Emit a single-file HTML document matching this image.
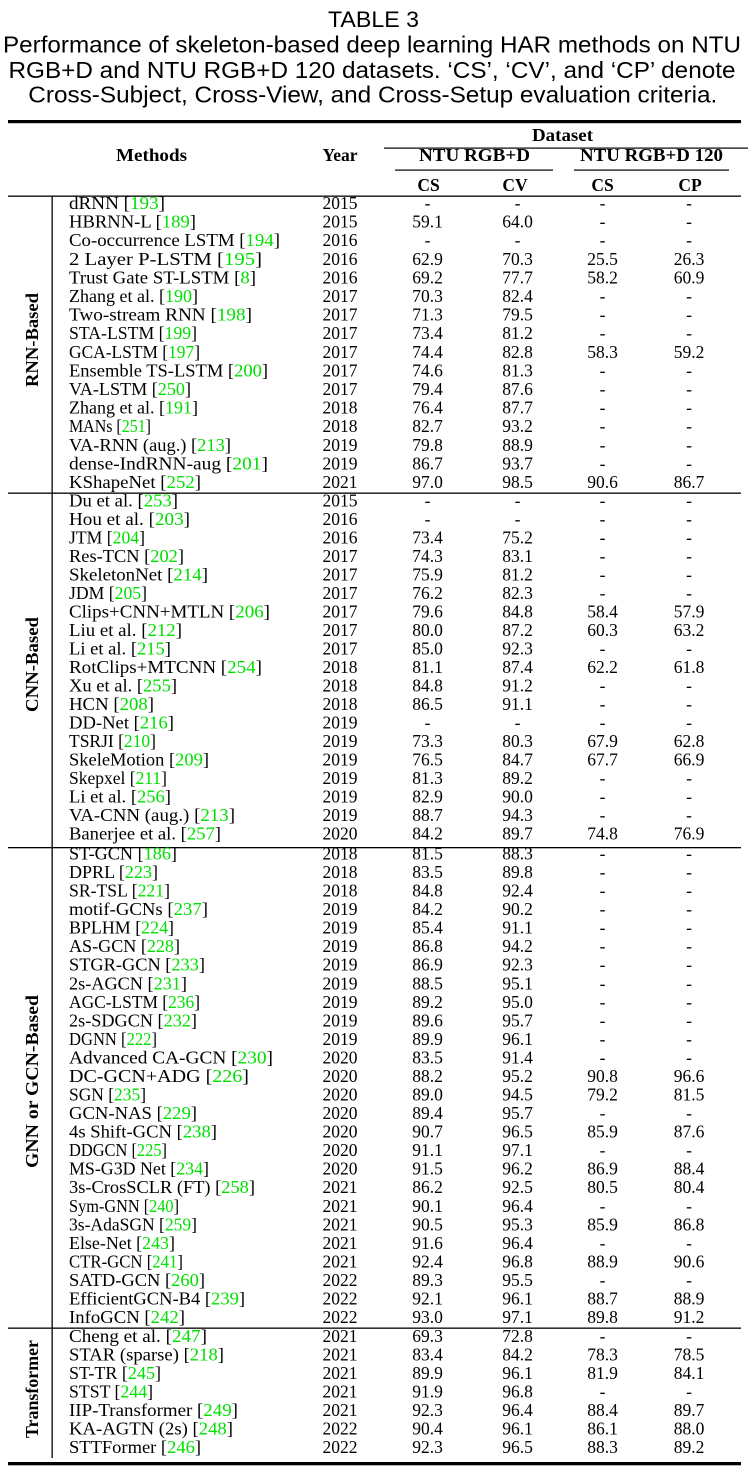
<!DOCTYPE html>
<html><head><meta charset="utf-8"><style>
html,body{margin:0;padding:0;background:#fff;}
svg{display:block;}
.s{font-family:"Liberation Sans",Arial,sans-serif;fill:#000;}
.r{font-family:"Liberation Serif","Times New Roman",serif;font-size:17.5px;fill:#000;}
.b{font-weight:bold;}
.c{text-anchor:middle;}
.g{fill:#00e000;}
</style></head><body>
<svg width="748" height="1478" viewBox="0 0 748 1478" xmlns="http://www.w3.org/2000/svg">
<rect width="748" height="1478" fill="#fff"/>
<!-- caption -->
<text class="s c" x="373.5" y="27" font-size="22.5" textLength="91" lengthAdjust="spacingAndGlyphs">TABLE 3</text>
<text class="s c" x="372" y="52.5" font-size="23.5" textLength="738" lengthAdjust="spacingAndGlyphs">Performance of skeleton-based deep learning HAR methods on NTU</text>
<text class="s c" x="372" y="78" font-size="23.5" textLength="727" lengthAdjust="spacingAndGlyphs">RGB+D and NTU RGB+D 120 datasets. &#8216;CS&#8217;, &#8216;CV&#8217;, and &#8216;CP&#8217; denote</text>
<text class="s c" x="372.8" y="102.5" font-size="23.5" textLength="689" lengthAdjust="spacingAndGlyphs">Cross-Subject, Cross-View, and Cross-Setup evaluation criteria.</text>

<!-- rules -->
<rect x="8" y="120" width="733" height="3.2" fill="#000"/>
<rect x="384" y="147.5" width="364" height="1.2" fill="#000"/>
<rect x="395" y="169.5" width="158" height="1.2" fill="#000"/>
<rect x="574" y="169.5" width="155" height="1.2" fill="#000"/>
<rect x="8" y="195.5" width="733" height="1.3" fill="#000"/>
<rect x="51.5" y="196" width="1.3" height="1262" fill="#000"/>
<rect x="8" y="492.5" width="733" height="1.3" fill="#000"/>
<rect x="8" y="847" width="733" height="1.3" fill="#000"/>
<rect x="8" y="1327.5" width="733" height="1.3" fill="#000"/>
<rect x="8" y="1462" width="733" height="3.3" fill="#000"/>

<!-- header -->
<text class="r b c" x="562.5" y="141" textLength="61" lengthAdjust="spacingAndGlyphs">Dataset</text>
<text class="r b c" x="151.5" y="161" textLength="71" lengthAdjust="spacingAndGlyphs">Methods</text>
<text class="r b c" x="340" y="161" textLength="35" lengthAdjust="spacingAndGlyphs">Year</text>
<text class="r b c" x="474.5" y="161" textLength="111" lengthAdjust="spacingAndGlyphs">NTU RGB+D</text>
<text class="r b c" x="651.5" y="161" textLength="143" lengthAdjust="spacingAndGlyphs">NTU RGB+D 120</text>
<text class="r b c" x="428.5" y="191">CS</text>
<text class="r b c" x="515" y="191">CV</text>
<text class="r b c" x="602.5" y="191">CS</text>
<text class="r b c" x="690" y="191">CP</text>

<!-- group labels -->
<text class="r b c" transform="translate(38,340) rotate(-90)" textLength="94" lengthAdjust="spacingAndGlyphs">RNN-Based</text>
<text class="r b c" transform="translate(38,664.5) rotate(-90)" textLength="95" lengthAdjust="spacingAndGlyphs">CNN-Based</text>
<text class="r b c" transform="translate(38,1081.5) rotate(-90)" textLength="173" lengthAdjust="spacingAndGlyphs">GNN or GCN-Based</text>
<text class="r b c" transform="translate(38,1389) rotate(-90)" textLength="98" lengthAdjust="spacingAndGlyphs">Transformer</text>

<!-- RNN -->
<g transform="translate(0,209)"><text class="r" x="69" y="0" textLength="96" lengthAdjust="spacingAndGlyphs">dRNN [<tspan class="g">193</tspan>]</text><text class="r c" x="340">2015</text><text class="r c" x="427.5">-</text><text class="r c" x="517.5">-</text><text class="r c" x="602.5">-</text><text class="r c" x="689">-</text></g>
<g transform="translate(0,227.6)"><text class="r" x="69" y="0" textLength="127" lengthAdjust="spacingAndGlyphs">HBRNN-L [<tspan class="g">189</tspan>]</text><text class="r c" x="340">2015</text><text class="r c" x="427.5">59.1</text><text class="r c" x="517.5">64.0</text><text class="r c" x="602.5">-</text><text class="r c" x="689">-</text></g>
<g transform="translate(0,246.2)"><text class="r" x="69" y="0" textLength="211" lengthAdjust="spacingAndGlyphs">Co-occurrence LSTM [<tspan class="g">194</tspan>]</text><text class="r c" x="340">2016</text><text class="r c" x="427.5">-</text><text class="r c" x="517.5">-</text><text class="r c" x="602.5">-</text><text class="r c" x="689">-</text></g>
<g transform="translate(0,264.8)"><text class="r" x="69" y="0" textLength="193" lengthAdjust="spacingAndGlyphs">2 Layer P-LSTM [<tspan class="g">195</tspan>]</text><text class="r c" x="340">2016</text><text class="r c" x="427.5">62.9</text><text class="r c" x="517.5">70.3</text><text class="r c" x="602.5">25.5</text><text class="r c" x="689">26.3</text></g>
<g transform="translate(0,283.4)"><text class="r" x="69" y="0" textLength="187" lengthAdjust="spacingAndGlyphs">Trust Gate ST-LSTM [<tspan class="g">8</tspan>]</text><text class="r c" x="340">2016</text><text class="r c" x="427.5">69.2</text><text class="r c" x="517.5">77.7</text><text class="r c" x="602.5">58.2</text><text class="r c" x="689">60.9</text></g>
<g transform="translate(0,302)"><text class="r" x="69" y="0" textLength="129" lengthAdjust="spacingAndGlyphs">Zhang et al. [<tspan class="g">190</tspan>]</text><text class="r c" x="340">2017</text><text class="r c" x="427.5">70.3</text><text class="r c" x="517.5">82.4</text><text class="r c" x="602.5">-</text><text class="r c" x="689">-</text></g>
<g transform="translate(0,320.6)"><text class="r" x="69" y="0" textLength="183" lengthAdjust="spacingAndGlyphs">Two-stream RNN [<tspan class="g">198</tspan>]</text><text class="r c" x="340">2017</text><text class="r c" x="427.5">71.3</text><text class="r c" x="517.5">79.5</text><text class="r c" x="602.5">-</text><text class="r c" x="689">-</text></g>
<g transform="translate(0,339.2)"><text class="r" x="69" y="0" textLength="128" lengthAdjust="spacingAndGlyphs">STA-LSTM [<tspan class="g">199</tspan>]</text><text class="r c" x="340">2017</text><text class="r c" x="427.5">73.4</text><text class="r c" x="517.5">81.2</text><text class="r c" x="602.5">-</text><text class="r c" x="689">-</text></g>
<g transform="translate(0,357.8)"><text class="r" x="69" y="0" textLength="131" lengthAdjust="spacingAndGlyphs">GCA-LSTM [<tspan class="g">197</tspan>]</text><text class="r c" x="340">2017</text><text class="r c" x="427.5">74.4</text><text class="r c" x="517.5">82.8</text><text class="r c" x="602.5">58.3</text><text class="r c" x="689">59.2</text></g>
<g transform="translate(0,376.4)"><text class="r" x="69" y="0" textLength="199" lengthAdjust="spacingAndGlyphs">Ensemble TS-LSTM [<tspan class="g">200</tspan>]</text><text class="r c" x="340">2017</text><text class="r c" x="427.5">74.6</text><text class="r c" x="517.5">81.3</text><text class="r c" x="602.5">-</text><text class="r c" x="689">-</text></g>
<g transform="translate(0,395)"><text class="r" x="69" y="0" textLength="122" lengthAdjust="spacingAndGlyphs">VA-LSTM [<tspan class="g">250</tspan>]</text><text class="r c" x="340">2017</text><text class="r c" x="427.5">79.4</text><text class="r c" x="517.5">87.6</text><text class="r c" x="602.5">-</text><text class="r c" x="689">-</text></g>
<g transform="translate(0,413.6)"><text class="r" x="69" y="0" textLength="129" lengthAdjust="spacingAndGlyphs">Zhang et al. [<tspan class="g">191</tspan>]</text><text class="r c" x="340">2018</text><text class="r c" x="427.5">76.4</text><text class="r c" x="517.5">87.7</text><text class="r c" x="602.5">-</text><text class="r c" x="689">-</text></g>
<g transform="translate(0,432.2)"><text class="r" x="69" y="0" textLength="82" lengthAdjust="spacingAndGlyphs">MANs [<tspan class="g">251</tspan>]</text><text class="r c" x="340">2018</text><text class="r c" x="427.5">82.7</text><text class="r c" x="517.5">93.2</text><text class="r c" x="602.5">-</text><text class="r c" x="689">-</text></g>
<g transform="translate(0,450.8)"><text class="r" x="69" y="0" textLength="162" lengthAdjust="spacingAndGlyphs">VA-RNN (aug.) [<tspan class="g">213</tspan>]</text><text class="r c" x="340">2019</text><text class="r c" x="427.5">79.8</text><text class="r c" x="517.5">88.9</text><text class="r c" x="602.5">-</text><text class="r c" x="689">-</text></g>
<g transform="translate(0,469.4)"><text class="r" x="69" y="0" textLength="199" lengthAdjust="spacingAndGlyphs">dense-IndRNN-aug [<tspan class="g">201</tspan>]</text><text class="r c" x="340">2019</text><text class="r c" x="427.5">86.7</text><text class="r c" x="517.5">93.7</text><text class="r c" x="602.5">-</text><text class="r c" x="689">-</text></g>
<g transform="translate(0,488)"><text class="r" x="69" y="0" textLength="132" lengthAdjust="spacingAndGlyphs">KShapeNet [<tspan class="g">252</tspan>]</text><text class="r c" x="340">2021</text><text class="r c" x="427.5">97.0</text><text class="r c" x="517.5">98.5</text><text class="r c" x="602.5">90.6</text><text class="r c" x="689">86.7</text></g>

<!-- CNN -->
<g transform="translate(0,506.7)"><text class="r" x="69" y="0" textLength="109" lengthAdjust="spacingAndGlyphs">Du et al. [<tspan class="g">253</tspan>]</text><text class="r c" x="340">2015</text><text class="r c" x="427.5">-</text><text class="r c" x="517.5">-</text><text class="r c" x="602.5">-</text><text class="r c" x="689">-</text></g>
<g transform="translate(0,525.2)"><text class="r" x="69" y="0" textLength="121" lengthAdjust="spacingAndGlyphs">Hou et al. [<tspan class="g">203</tspan>]</text><text class="r c" x="340">2016</text><text class="r c" x="427.5">-</text><text class="r c" x="517.5">-</text><text class="r c" x="602.5">-</text><text class="r c" x="689">-</text></g>
<g transform="translate(0,543.7)"><text class="r" x="69" y="0" textLength="76" lengthAdjust="spacingAndGlyphs">JTM [<tspan class="g">204</tspan>]</text><text class="r c" x="340">2016</text><text class="r c" x="427.5">73.4</text><text class="r c" x="517.5">75.2</text><text class="r c" x="602.5">-</text><text class="r c" x="689">-</text></g>
<g transform="translate(0,562.2)"><text class="r" x="69" y="0" textLength="115" lengthAdjust="spacingAndGlyphs">Res-TCN [<tspan class="g">202</tspan>]</text><text class="r c" x="340">2017</text><text class="r c" x="427.5">74.3</text><text class="r c" x="517.5">83.1</text><text class="r c" x="602.5">-</text><text class="r c" x="689">-</text></g>
<g transform="translate(0,580.7)"><text class="r" x="69" y="0" textLength="139" lengthAdjust="spacingAndGlyphs">SkeletonNet [<tspan class="g">214</tspan>]</text><text class="r c" x="340">2017</text><text class="r c" x="427.5">75.9</text><text class="r c" x="517.5">81.2</text><text class="r c" x="602.5">-</text><text class="r c" x="689">-</text></g>
<g transform="translate(0,599.2)"><text class="r" x="69" y="0" textLength="78" lengthAdjust="spacingAndGlyphs">JDM [<tspan class="g">205</tspan>]</text><text class="r c" x="340">2017</text><text class="r c" x="427.5">76.2</text><text class="r c" x="517.5">82.3</text><text class="r c" x="602.5">-</text><text class="r c" x="689">-</text></g>
<g transform="translate(0,617.7)"><text class="r" x="69" y="0" textLength="201" lengthAdjust="spacingAndGlyphs">Clips+CNN+MTLN [<tspan class="g">206</tspan>]</text><text class="r c" x="340">2017</text><text class="r c" x="427.5">79.6</text><text class="r c" x="517.5">84.8</text><text class="r c" x="602.5">58.4</text><text class="r c" x="689">57.9</text></g>
<g transform="translate(0,636.2)"><text class="r" x="69" y="0" textLength="113" lengthAdjust="spacingAndGlyphs">Liu et al. [<tspan class="g">212</tspan>]</text><text class="r c" x="340">2017</text><text class="r c" x="427.5">80.0</text><text class="r c" x="517.5">87.2</text><text class="r c" x="602.5">60.3</text><text class="r c" x="689">63.2</text></g>
<g transform="translate(0,654.7)"><text class="r" x="69" y="0" textLength="102" lengthAdjust="spacingAndGlyphs">Li et al. [<tspan class="g">215</tspan>]</text><text class="r c" x="340">2017</text><text class="r c" x="427.5">85.0</text><text class="r c" x="517.5">92.3</text><text class="r c" x="602.5">-</text><text class="r c" x="689">-</text></g>
<g transform="translate(0,673.2)"><text class="r" x="69" y="0" textLength="193" lengthAdjust="spacingAndGlyphs">RotClips+MTCNN [<tspan class="g">254</tspan>]</text><text class="r c" x="340">2018</text><text class="r c" x="427.5">81.1</text><text class="r c" x="517.5">87.4</text><text class="r c" x="602.5">62.2</text><text class="r c" x="689">61.8</text></g>
<g transform="translate(0,691.7)"><text class="r" x="69" y="0" textLength="108" lengthAdjust="spacingAndGlyphs">Xu et al. [<tspan class="g">255</tspan>]</text><text class="r c" x="340">2018</text><text class="r c" x="427.5">84.8</text><text class="r c" x="517.5">91.2</text><text class="r c" x="602.5">-</text><text class="r c" x="689">-</text></g>
<g transform="translate(0,710.2)"><text class="r" x="69" y="0" textLength="85" lengthAdjust="spacingAndGlyphs">HCN [<tspan class="g">208</tspan>]</text><text class="r c" x="340">2018</text><text class="r c" x="427.5">86.5</text><text class="r c" x="517.5">91.1</text><text class="r c" x="602.5">-</text><text class="r c" x="689">-</text></g>
<g transform="translate(0,728.7)"><text class="r" x="69" y="0" textLength="105" lengthAdjust="spacingAndGlyphs">DD-Net [<tspan class="g">216</tspan>]</text><text class="r c" x="340">2019</text><text class="r c" x="427.5">-</text><text class="r c" x="517.5">-</text><text class="r c" x="602.5">-</text><text class="r c" x="689">-</text></g>
<g transform="translate(0,747.2)"><text class="r" x="69" y="0" textLength="87" lengthAdjust="spacingAndGlyphs">TSRJI [<tspan class="g">210</tspan>]</text><text class="r c" x="340">2019</text><text class="r c" x="427.5">73.3</text><text class="r c" x="517.5">80.3</text><text class="r c" x="602.5">67.9</text><text class="r c" x="689">62.8</text></g>
<g transform="translate(0,765.7)"><text class="r" x="69" y="0" textLength="140" lengthAdjust="spacingAndGlyphs">SkeleMotion [<tspan class="g">209</tspan>]</text><text class="r c" x="340">2019</text><text class="r c" x="427.5">76.5</text><text class="r c" x="517.5">84.7</text><text class="r c" x="602.5">67.7</text><text class="r c" x="689">66.9</text></g>
<g transform="translate(0,784.2)"><text class="r" x="69" y="0" textLength="98" lengthAdjust="spacingAndGlyphs">Skepxel [<tspan class="g">211</tspan>]</text><text class="r c" x="340">2019</text><text class="r c" x="427.5">81.3</text><text class="r c" x="517.5">89.2</text><text class="r c" x="602.5">-</text><text class="r c" x="689">-</text></g>
<g transform="translate(0,802.7)"><text class="r" x="69" y="0" textLength="102" lengthAdjust="spacingAndGlyphs">Li et al. [<tspan class="g">256</tspan>]</text><text class="r c" x="340">2019</text><text class="r c" x="427.5">82.9</text><text class="r c" x="517.5">90.0</text><text class="r c" x="602.5">-</text><text class="r c" x="689">-</text></g>
<g transform="translate(0,821.2)"><text class="r" x="69" y="0" textLength="166" lengthAdjust="spacingAndGlyphs">VA-CNN (aug.) [<tspan class="g">213</tspan>]</text><text class="r c" x="340">2019</text><text class="r c" x="427.5">88.7</text><text class="r c" x="517.5">94.3</text><text class="r c" x="602.5">-</text><text class="r c" x="689">-</text></g>
<g transform="translate(0,839.7)"><text class="r" x="69" y="0" textLength="152" lengthAdjust="spacingAndGlyphs">Banerjee et al. [<tspan class="g">257</tspan>]</text><text class="r c" x="340">2020</text><text class="r c" x="427.5">84.2</text><text class="r c" x="517.5">89.7</text><text class="r c" x="602.5">74.8</text><text class="r c" x="689">76.9</text></g>

<!-- GCN -->
<g transform="translate(0,859.5)"><text class="r" x="69" y="0" textLength="108" lengthAdjust="spacingAndGlyphs">ST-GCN [<tspan class="g">186</tspan>]</text><text class="r c" x="340">2018</text><text class="r c" x="427.5">81.5</text><text class="r c" x="517.5">88.3</text><text class="r c" x="602.5">-</text><text class="r c" x="689">-</text></g>
<g transform="translate(0,878)"><text class="r" x="69" y="0" textLength="89" lengthAdjust="spacingAndGlyphs">DPRL [<tspan class="g">223</tspan>]</text><text class="r c" x="340">2018</text><text class="r c" x="427.5">83.5</text><text class="r c" x="517.5">89.8</text><text class="r c" x="602.5">-</text><text class="r c" x="689">-</text></g>
<g transform="translate(0,896.6)"><text class="r" x="69" y="0" textLength="101" lengthAdjust="spacingAndGlyphs">SR-TSL [<tspan class="g">221</tspan>]</text><text class="r c" x="340">2018</text><text class="r c" x="427.5">84.8</text><text class="r c" x="517.5">92.4</text><text class="r c" x="602.5">-</text><text class="r c" x="689">-</text></g>
<g transform="translate(0,915.1)"><text class="r" x="69" y="0" textLength="139" lengthAdjust="spacingAndGlyphs">motif-GCNs [<tspan class="g">237</tspan>]</text><text class="r c" x="340">2019</text><text class="r c" x="427.5">84.2</text><text class="r c" x="517.5">90.2</text><text class="r c" x="602.5">-</text><text class="r c" x="689">-</text></g>
<g transform="translate(0,933.7)"><text class="r" x="69" y="0" textLength="105" lengthAdjust="spacingAndGlyphs">BPLHM [<tspan class="g">224</tspan>]</text><text class="r c" x="340">2019</text><text class="r c" x="427.5">85.4</text><text class="r c" x="517.5">91.1</text><text class="r c" x="602.5">-</text><text class="r c" x="689">-</text></g>
<g transform="translate(0,952.2)"><text class="r" x="69" y="0" textLength="111" lengthAdjust="spacingAndGlyphs">AS-GCN [<tspan class="g">228</tspan>]</text><text class="r c" x="340">2019</text><text class="r c" x="427.5">86.8</text><text class="r c" x="517.5">94.2</text><text class="r c" x="602.5">-</text><text class="r c" x="689">-</text></g>
<g transform="translate(0,970.7)"><text class="r" x="69" y="0" textLength="136" lengthAdjust="spacingAndGlyphs">STGR-GCN [<tspan class="g">233</tspan>]</text><text class="r c" x="340">2019</text><text class="r c" x="427.5">86.9</text><text class="r c" x="517.5">92.3</text><text class="r c" x="602.5">-</text><text class="r c" x="689">-</text></g>
<g transform="translate(0,989.3)"><text class="r" x="69" y="0" textLength="118" lengthAdjust="spacingAndGlyphs">2s-AGCN [<tspan class="g">231</tspan>]</text><text class="r c" x="340">2019</text><text class="r c" x="427.5">88.5</text><text class="r c" x="517.5">95.1</text><text class="r c" x="602.5">-</text><text class="r c" x="689">-</text></g>
<g transform="translate(0,1007.8)"><text class="r" x="69" y="0" textLength="131" lengthAdjust="spacingAndGlyphs">AGC-LSTM [<tspan class="g">236</tspan>]</text><text class="r c" x="340">2019</text><text class="r c" x="427.5">89.2</text><text class="r c" x="517.5">95.0</text><text class="r c" x="602.5">-</text><text class="r c" x="689">-</text></g>
<g transform="translate(0,1026.4)"><text class="r" x="69" y="0" textLength="128" lengthAdjust="spacingAndGlyphs">2s-SDGCN [<tspan class="g">232</tspan>]</text><text class="r c" x="340">2019</text><text class="r c" x="427.5">89.6</text><text class="r c" x="517.5">95.7</text><text class="r c" x="602.5">-</text><text class="r c" x="689">-</text></g>
<g transform="translate(0,1044.9)"><text class="r" x="69" y="0" textLength="88" lengthAdjust="spacingAndGlyphs">DGNN [<tspan class="g">222</tspan>]</text><text class="r c" x="340">2019</text><text class="r c" x="427.5">89.9</text><text class="r c" x="517.5">96.1</text><text class="r c" x="602.5">-</text><text class="r c" x="689">-</text></g>
<g transform="translate(0,1063.4)"><text class="r" x="69" y="0" textLength="204" lengthAdjust="spacingAndGlyphs">Advanced CA-GCN [<tspan class="g">230</tspan>]</text><text class="r c" x="340">2020</text><text class="r c" x="427.5">83.5</text><text class="r c" x="517.5">91.4</text><text class="r c" x="602.5">-</text><text class="r c" x="689">-</text></g>
<g transform="translate(0,1082)"><text class="r" x="69" y="0" textLength="180" lengthAdjust="spacingAndGlyphs">DC-GCN+ADG [<tspan class="g">226</tspan>]</text><text class="r c" x="340">2020</text><text class="r c" x="427.5">88.2</text><text class="r c" x="517.5">95.2</text><text class="r c" x="602.5">90.8</text><text class="r c" x="689">96.6</text></g>
<g transform="translate(0,1100.5)"><text class="r" x="69" y="0" textLength="77" lengthAdjust="spacingAndGlyphs">SGN [<tspan class="g">235</tspan>]</text><text class="r c" x="340">2020</text><text class="r c" x="427.5">89.0</text><text class="r c" x="517.5">94.5</text><text class="r c" x="602.5">79.2</text><text class="r c" x="689">81.5</text></g>
<g transform="translate(0,1119.1)"><text class="r" x="69" y="0" textLength="128" lengthAdjust="spacingAndGlyphs">GCN-NAS [<tspan class="g">229</tspan>]</text><text class="r c" x="340">2020</text><text class="r c" x="427.5">89.4</text><text class="r c" x="517.5">95.7</text><text class="r c" x="602.5">-</text><text class="r c" x="689">-</text></g>
<g transform="translate(0,1137.6)"><text class="r" x="69" y="0" textLength="148" lengthAdjust="spacingAndGlyphs">4s Shift-GCN [<tspan class="g">238</tspan>]</text><text class="r c" x="340">2020</text><text class="r c" x="427.5">90.7</text><text class="r c" x="517.5">96.5</text><text class="r c" x="602.5">85.9</text><text class="r c" x="689">87.6</text></g>
<g transform="translate(0,1156.1)"><text class="r" x="69" y="0" textLength="98" lengthAdjust="spacingAndGlyphs">DDGCN [<tspan class="g">225</tspan>]</text><text class="r c" x="340">2020</text><text class="r c" x="427.5">91.1</text><text class="r c" x="517.5">97.1</text><text class="r c" x="602.5">-</text><text class="r c" x="689">-</text></g>
<g transform="translate(0,1174.7)"><text class="r" x="69" y="0" textLength="140" lengthAdjust="spacingAndGlyphs">MS-G3D Net [<tspan class="g">234</tspan>]</text><text class="r c" x="340">2020</text><text class="r c" x="427.5">91.5</text><text class="r c" x="517.5">96.2</text><text class="r c" x="602.5">86.9</text><text class="r c" x="689">88.4</text></g>
<g transform="translate(0,1193.2)"><text class="r" x="69" y="0" textLength="186" lengthAdjust="spacingAndGlyphs">3s-CrosSCLR (FT) [<tspan class="g">258</tspan>]</text><text class="r c" x="340">2021</text><text class="r c" x="427.5">86.2</text><text class="r c" x="517.5">92.5</text><text class="r c" x="602.5">80.5</text><text class="r c" x="689">80.4</text></g>
<g transform="translate(0,1211.8)"><text class="r" x="69" y="0" textLength="110" lengthAdjust="spacingAndGlyphs">Sym-GNN [<tspan class="g">240</tspan>]</text><text class="r c" x="340">2021</text><text class="r c" x="427.5">90.1</text><text class="r c" x="517.5">96.4</text><text class="r c" x="602.5">-</text><text class="r c" x="689">-</text></g>
<g transform="translate(0,1230.3)"><text class="r" x="69" y="0" textLength="128" lengthAdjust="spacingAndGlyphs">3s-AdaSGN [<tspan class="g">259</tspan>]</text><text class="r c" x="340">2021</text><text class="r c" x="427.5">90.5</text><text class="r c" x="517.5">95.3</text><text class="r c" x="602.5">85.9</text><text class="r c" x="689">86.8</text></g>
<g transform="translate(0,1248.8)"><text class="r" x="69" y="0" textLength="106" lengthAdjust="spacingAndGlyphs">Else-Net [<tspan class="g">243</tspan>]</text><text class="r c" x="340">2021</text><text class="r c" x="427.5">91.6</text><text class="r c" x="517.5">96.4</text><text class="r c" x="602.5">-</text><text class="r c" x="689">-</text></g>
<g transform="translate(0,1267.4)"><text class="r" x="69" y="0" textLength="114" lengthAdjust="spacingAndGlyphs">CTR-GCN [<tspan class="g">241</tspan>]</text><text class="r c" x="340">2021</text><text class="r c" x="427.5">92.4</text><text class="r c" x="517.5">96.8</text><text class="r c" x="602.5">88.9</text><text class="r c" x="689">90.6</text></g>
<g transform="translate(0,1285.9)"><text class="r" x="69" y="0" textLength="136" lengthAdjust="spacingAndGlyphs">SATD-GCN [<tspan class="g">260</tspan>]</text><text class="r c" x="340">2022</text><text class="r c" x="427.5">89.3</text><text class="r c" x="517.5">95.5</text><text class="r c" x="602.5">-</text><text class="r c" x="689">-</text></g>
<g transform="translate(0,1304.5)"><text class="r" x="69" y="0" textLength="176" lengthAdjust="spacingAndGlyphs">EfficientGCN-B4 [<tspan class="g">239</tspan>]</text><text class="r c" x="340">2022</text><text class="r c" x="427.5">92.1</text><text class="r c" x="517.5">96.1</text><text class="r c" x="602.5">88.7</text><text class="r c" x="689">88.9</text></g>
<g transform="translate(0,1323)"><text class="r" x="69" y="0" textLength="116" lengthAdjust="spacingAndGlyphs">InfoGCN [<tspan class="g">242</tspan>]</text><text class="r c" x="340">2022</text><text class="r c" x="427.5">93.0</text><text class="r c" x="517.5">97.1</text><text class="r c" x="602.5">89.8</text><text class="r c" x="689">91.2</text></g>

<!-- Transformer -->
<g transform="translate(0,1342)"><text class="r" x="69" y="0" textLength="138" lengthAdjust="spacingAndGlyphs">Cheng et al. [<tspan class="g">247</tspan>]</text><text class="r c" x="340">2021</text><text class="r c" x="427.5">69.3</text><text class="r c" x="517.5">72.8</text><text class="r c" x="602.5">-</text><text class="r c" x="689">-</text></g>
<g transform="translate(0,1360.5)"><text class="r" x="69" y="0" textLength="155" lengthAdjust="spacingAndGlyphs">STAR (sparse) [<tspan class="g">218</tspan>]</text><text class="r c" x="340">2021</text><text class="r c" x="427.5">83.4</text><text class="r c" x="517.5">84.2</text><text class="r c" x="602.5">78.3</text><text class="r c" x="689">78.5</text></g>
<g transform="translate(0,1379)"><text class="r" x="69" y="0" textLength="92" lengthAdjust="spacingAndGlyphs">ST-TR [<tspan class="g">245</tspan>]</text><text class="r c" x="340">2021</text><text class="r c" x="427.5">89.9</text><text class="r c" x="517.5">96.1</text><text class="r c" x="602.5">81.9</text><text class="r c" x="689">84.1</text></g>
<g transform="translate(0,1397.5)"><text class="r" x="69" y="0" textLength="84" lengthAdjust="spacingAndGlyphs">STST [<tspan class="g">244</tspan>]</text><text class="r c" x="340">2021</text><text class="r c" x="427.5">91.9</text><text class="r c" x="517.5">96.8</text><text class="r c" x="602.5">-</text><text class="r c" x="689">-</text></g>
<g transform="translate(0,1416)"><text class="r" x="69" y="0" textLength="169" lengthAdjust="spacingAndGlyphs">IIP-Transformer [<tspan class="g">249</tspan>]</text><text class="r c" x="340">2021</text><text class="r c" x="427.5">92.3</text><text class="r c" x="517.5">96.4</text><text class="r c" x="602.5">88.4</text><text class="r c" x="689">89.7</text></g>
<g transform="translate(0,1434.5)"><text class="r" x="69" y="0" textLength="164" lengthAdjust="spacingAndGlyphs">KA-AGTN (2s) [<tspan class="g">248</tspan>]</text><text class="r c" x="340">2022</text><text class="r c" x="427.5">90.4</text><text class="r c" x="517.5">96.1</text><text class="r c" x="602.5">86.1</text><text class="r c" x="689">88.0</text></g>
<g transform="translate(0,1453)"><text class="r" x="69" y="0" textLength="132" lengthAdjust="spacingAndGlyphs">STTFormer [<tspan class="g">246</tspan>]</text><text class="r c" x="340">2022</text><text class="r c" x="427.5">92.3</text><text class="r c" x="517.5">96.5</text><text class="r c" x="602.5">88.3</text><text class="r c" x="689">89.2</text></g>
</svg>
</body></html>
